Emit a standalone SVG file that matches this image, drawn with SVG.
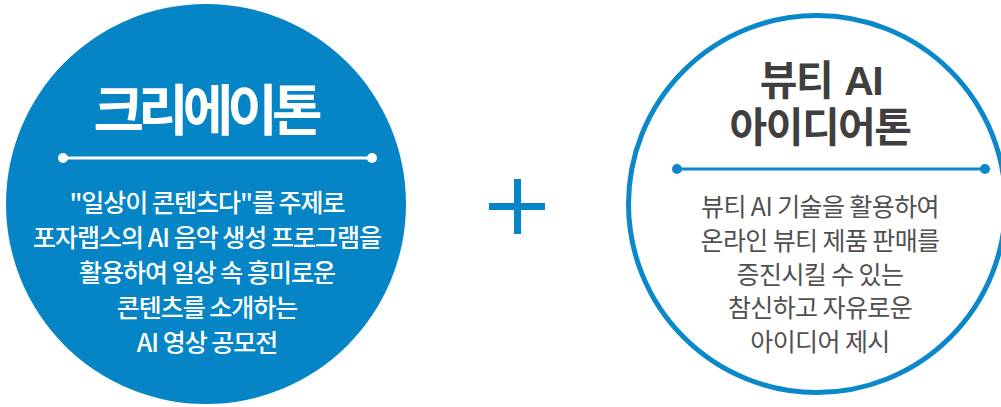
<svg xmlns="http://www.w3.org/2000/svg" width="1001" height="407" viewBox="0 0 1001 407">
<style>
text{font-family:"Noto Sans CJK KR","Noto Sans",sans-serif;text-anchor:middle}
.t1{fill:#ffffff;font-size:55px;font-weight:700;letter-spacing:-6px}
.b1{fill:#ffffff;font-size:25px;font-weight:500;letter-spacing:-1px}
.t2{fill:#3f3f3f;font-family:"Liberation Sans","Noto Sans CJK KR",sans-serif;font-size:41px;font-weight:700;letter-spacing:-1.5px}
.b2{fill:#505050;font-size:25px;font-weight:400;letter-spacing:-0.6px}
.blue{fill:#0585c6}
</style>
<g id="creathon">
<circle cx="206" cy="204" r="200" class="blue"/>
<line x1="63" y1="158" x2="372" y2="158" stroke="#ffffff" stroke-width="3"/>
<circle cx="63" cy="158" r="5" fill="#ffffff"/>
<circle cx="372" cy="158" r="5" fill="#ffffff"/>
<text class="t1" x="205" y="130">크리에이톤</text>
<text class="b1" x="207" y="212">"일상이 콘텐츠다"를 주제로</text>
<text class="b1" x="207" y="247">포자랩스의 AI 음악 생성 프로그램을</text>
<text class="b1" x="207" y="282">활용하여 일상 속 흥미로운</text>
<text class="b1" x="207" y="317">콘텐츠를 소개하는</text>
<text class="b1" x="207" y="352">AI 영상 공모전</text>
</g>
<g id="plus">
<rect x="514" y="179" width="7" height="55" class="blue"/>
<rect x="489" y="203" width="56" height="7" class="blue"/>
</g>
<g id="ideathon">
<circle cx="817" cy="204" r="188.5" fill="#ffffff" stroke="#0a88ca" stroke-width="5"/>
<line x1="677" y1="169" x2="985" y2="169" stroke="#0a88ca" stroke-width="3"/>
<circle cx="677" cy="169" r="5" fill="#0a88ca"/>
<circle cx="985" cy="169" r="5" fill="#0a88ca"/>
<text class="t2"><tspan x="821" y="95" word-spacing="2px">뷰티 AI</tspan><tspan x="820" y="142">아이디어톤</tspan></text>
<text class="b2" x="820" y="216">뷰티 AI 기술을 활용하여</text>
<text class="b2" x="820" y="250">온라인 뷰티 제품 판매를</text>
<text class="b2" x="820" y="284">증진시킬 수 있는</text>
<text class="b2" x="820" y="317">참신하고 자유로운</text>
<text class="b2" x="820" y="351">아이디어 제시</text>
</g>
</svg>
